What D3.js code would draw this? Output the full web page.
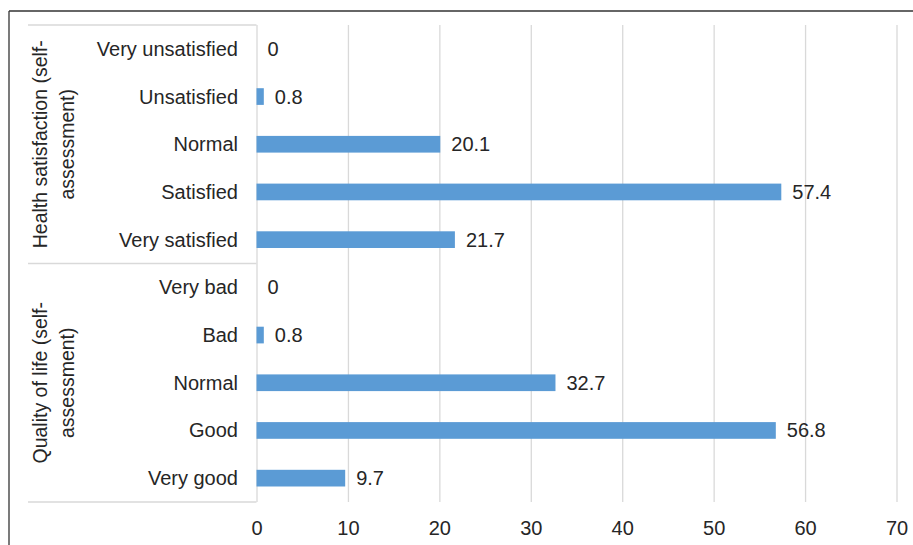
<!DOCTYPE html>
<html>
<head>
<meta charset="utf-8">
<script src="https://cdn.jsdelivr.net/npm/d3@7"></script>
<style>
  html, body { margin: 0; padding: 0; background: #fff; }
  svg { display: block; font-family: "Liberation Sans", Arial, sans-serif; }
</style>
</head>
<body>
<svg id="chart" width="913" height="545"></svg>
<script>
// ---- data ----
const groupTitles = [["Health satisfaction (self-", "assessment)"], ["Quality of life (self-", "assessment)"]];
const healthCategories = ["Very unsatisfied", "Unsatisfied", "Normal", "Satisfied", "Very satisfied"];
const healthValues = [0, 0.8, 20.1, 57.4, 21.7];
const qolCategories = ["Very bad", "Bad", "Normal", "Good", "Very good"];
const qolValues = [0, 0.8, 32.7, 56.8, 9.7];
const xTicks = [0, 10, 20, 30, 40, 50, 60, 70];

// ---- build rows ----
const rows = [];
healthCategories.forEach((c, i) => rows.push({ key: "h" + i, label: c, value: healthValues[i], group: 0 }));
qolCategories.forEach((c, i) => rows.push({ key: "q" + i, label: c, value: qolValues[i], group: 1 }));

const svg = d3.select("#chart");
const textColor = "#262626";
const gridColor = "#d9d9d9";
const fs = 20;
const fsTitle = 19.5;

const plotTop = 25, plotBottom = 502;
const x = d3.scaleLinear().domain([0, 70]).range([256.5, 896.5]);
const y = d3.scaleBand().domain(rows.map(d => d.key)).range([plotTop, plotBottom])
  .paddingInner(0.65).paddingOuter(0.325);

// outer frame (cropped)
svg.append("line").attr("x1", 9).attr("x2", 913).attr("y1", 11).attr("y2", 11)
  .attr("stroke", "#333").attr("stroke-width", 1.3);
svg.append("line").attr("x1", 9).attr("x2", 9).attr("y1", 11).attr("y2", 545)
  .attr("stroke", "#333").attr("stroke-width", 1.3);

// gridlines
const xAxis = d3.axisBottom(x).tickValues(xTicks).tickSize(-(plotBottom - plotTop)).tickFormat(d3.format("d"));
const gx = svg.append("g").attr("transform", `translate(0,${plotBottom})`).call(xAxis);
gx.select(".domain").remove();
gx.selectAll(".tick line").attr("stroke", gridColor).attr("stroke-width", 1.3);
gx.selectAll(".tick text").attr("fill", textColor).attr("font-size", fs)
  .attr("font-family", "Liberation Sans, Arial, sans-serif").attr("dy", "1.5em");

// category axis box lines
const groupEdges = [plotTop, (plotTop + plotBottom) / 2, plotBottom];
groupEdges.forEach(yy => {
  svg.append("line").attr("x1", 28).attr("x2", x(0)).attr("y1", yy).attr("y2", yy)
    .attr("stroke", gridColor).attr("stroke-width", 1.3);
});

// bars
svg.append("g").selectAll("rect").data(rows).join("rect")
  .attr("x", x(0))
  .attr("y", d => y(d.key))
  .attr("width", d => x(d.value) - x(0))
  .attr("height", y.bandwidth())
  .attr("fill", "#5b9bd5");

// value labels
svg.append("g").selectAll("text").data(rows).join("text")
  .attr("x", d => x(d.value) + 11)
  .attr("y", d => y(d.key) + y.bandwidth() / 2)
  .attr("dy", "0.35em")
  .attr("font-size", fs).attr("fill", textColor)
  .text(d => d.value);

// category labels
svg.append("g").selectAll("text").data(rows).join("text")
  .attr("x", 238)
  .attr("y", d => y(d.key) + y.bandwidth() / 2)
  .attr("dy", "0.35em")
  .attr("text-anchor", "end")
  .attr("font-size", fs).attr("fill", textColor)
  .text(d => d.label);

// group titles (rotated, two lines)
groupTitles.forEach((lines, gi) => {
  const cy = (groupEdges[gi] + groupEdges[gi + 1]) / 2;
  const t = svg.append("text")
    .attr("transform", `translate(47,${cy}) rotate(-90)`)
    .attr("text-anchor", "middle")
    .attr("font-size", fsTitle).attr("fill", textColor);
  lines.forEach((ln, li) => {
    t.append("tspan").attr("x", 0).attr("y", li * 27).text(ln);
  });
});
</script>
</body>
</html>
